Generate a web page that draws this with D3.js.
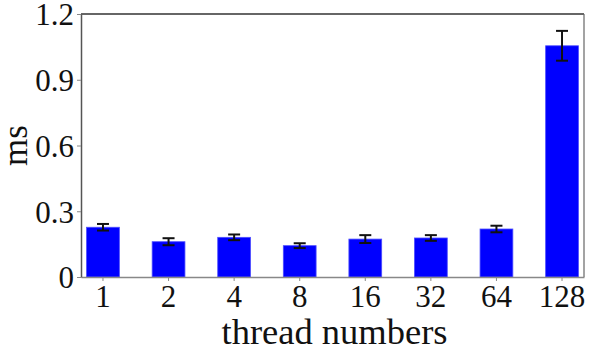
<!DOCTYPE html>
<html>
<head>
<meta charset="utf-8">
<script src="https://cdn.jsdelivr.net/npm/d3@7"></script>
<style>
  body { margin: 0; background: #fff; }
  text { font-family: "Liberation Serif", "Times New Roman", serif; }
</style>
</head>
<body>
<div id="chart"></div>
<script>
// thread counts and measured latency (ms) with error
const threads = ["1", "2", "4", "8", "16", "32", "64", "128"];
const meanMs = [0.227, 0.161, 0.181, 0.143, 0.173, 0.178, 0.219, 1.055];
const errMs = [0.015, 0.016, 0.013, 0.011, 0.018, 0.013, 0.015, 0.068];
const yTicks = [0, 0.3, 0.6, 0.9, 1.2];

window.onload = () => {
    var w = 589;
    var h = 348;
    var left = 81, right = 584, top = 14, bottom = 277;

    var data = threads.map((t, i) => ({ t: t, v: meanMs[i], e: errMs[i] }));

    var xScale = d3.scaleBand()
        .domain(threads)
        .range([left, right])
        .paddingInner(0.5)
        .paddingOuter(0.085);

    var yScale = d3.scaleLinear()
        .domain([0, 1.2])
        .range([bottom, top]);

    var svg = d3.select("#chart")
        .append("svg")
        .attr("width", w)
        .attr("height", h);

    // bars
    svg.selectAll("rect.bar")
        .data(data)
        .enter()
        .append("rect")
        .attr("class", "bar")
        .attr("x", (d) => xScale(d.t))
        .attr("width", xScale.bandwidth())
        .attr("y", (d) => yScale(d.v))
        .attr("height", (d) => yScale(0) - yScale(d.v))
        .attr("fill", "#0000ff")
        .attr("stroke", "#4d4dff")
        .attr("stroke-width", 0.8);

    // error bars
    var cap = 6;
    var eb = svg.selectAll("g.err")
        .data(data)
        .enter()
        .append("g")
        .attr("class", "err")
        .attr("stroke", "#111")
        .attr("stroke-width", 2);
    eb.append("line")
        .attr("x1", (d) => xScale(d.t) + xScale.bandwidth() / 2)
        .attr("x2", (d) => xScale(d.t) + xScale.bandwidth() / 2)
        .attr("y1", (d) => yScale(d.v + d.e))
        .attr("y2", (d) => yScale(d.v - d.e));
    eb.append("line")
        .attr("x1", (d) => xScale(d.t) + xScale.bandwidth() / 2 - cap)
        .attr("x2", (d) => xScale(d.t) + xScale.bandwidth() / 2 + cap)
        .attr("y1", (d) => yScale(d.v + d.e))
        .attr("y2", (d) => yScale(d.v + d.e));
    eb.append("line")
        .attr("x1", (d) => xScale(d.t) + xScale.bandwidth() / 2 - cap)
        .attr("x2", (d) => xScale(d.t) + xScale.bandwidth() / 2 + cap)
        .attr("y1", (d) => yScale(d.v - d.e))
        .attr("y2", (d) => yScale(d.v - d.e));

    // frame
    svg.append("line").attr("x1", left).attr("x2", right).attr("y1", top).attr("y2", top)
        .attr("stroke", "#333").attr("stroke-width", 1.5);
    svg.append("line").attr("x1", right).attr("x2", right).attr("y1", top).attr("y2", bottom)
        .attr("stroke", "#666").attr("stroke-width", 1.2);

    var xAxis = d3.axisBottom(xScale)
        .tickSize(4)
        .tickSizeOuter(0);

    var yAxis = d3.axisLeft(yScale)
        .tickValues(yTicks)
        .tickFormat((d) => d === 0 ? "0" : d3.format(".1f")(d))
        .tickSize(4)
        .tickPadding(3)
        .tickSizeOuter(0);

    var gx = svg.append("g")
        .attr("transform", `translate(0, ${bottom})`)
        .call(xAxis);
    gx.select(".domain").attr("stroke", "#888").attr("stroke-width", 1.5);
    gx.selectAll(".tick line").attr("stroke", "#888");
    gx.selectAll(".tick text")
        .attr("font-size", 31)
        .attr("fill", "#111")
        .attr("dy", "0.71em")
        .attr("y", 8);

    var gy = svg.append("g")
        .attr("transform", `translate(${left}, 0)`)
        .call(yAxis);
    gy.select(".domain").attr("stroke", "#555").attr("stroke-width", 1.5);
    gy.selectAll(".tick line").attr("stroke", "#888");
    gy.selectAll(".tick text")
        .attr("font-size", 31)
        .attr("fill", "#111")
        .attr("dy", "0.35em");

    svg.append("text")
        .attr("x", (left + right) / 2 + 2)
        .attr("y", 344)
        .attr("text-anchor", "middle")
        .attr("font-size", 36.5)
        .attr("fill", "#111")
        .text("thread numbers");

    svg.append("text")
        .attr("transform", `translate(27, ${(top + bottom) / 2}) rotate(-90)`)
        .attr("text-anchor", "middle")
        .attr("font-size", 35)
        .attr("fill", "#111")
        .text("ms");
};
</script>
</body>
</html>
